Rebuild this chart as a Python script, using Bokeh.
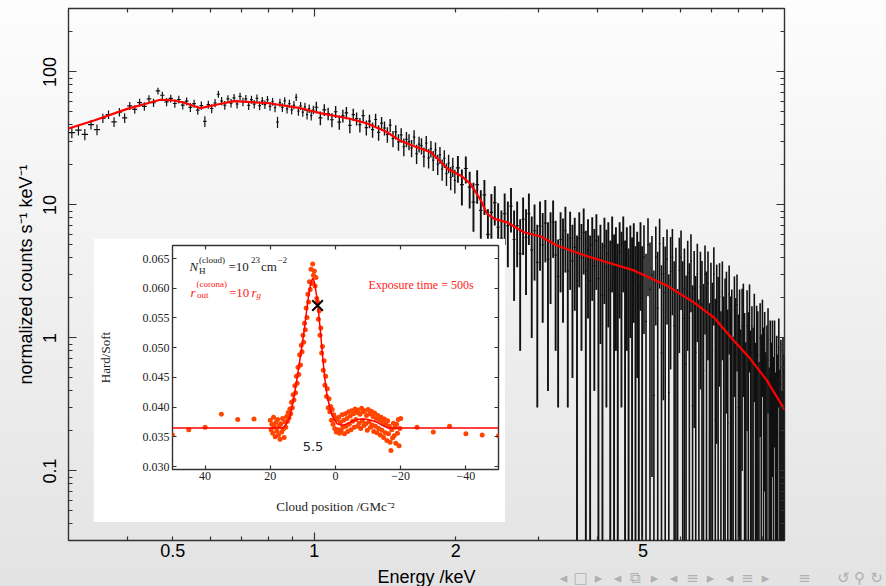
import numpy as np
from bokeh.plotting import figure
from bokeh.layouts import column
from bokeh.core.properties import value
from bokeh.models import (Range1d, LogAxis, LinearAxis, FixedTicker, CustomJSTickFormatter,
                          NumeralTickFormatter, Label, GridBox)
from bokeh.embed import file_html
from bokeh.resources import INLINE

# ---------------- main spectrum (energy bins, keV) ----------------
edges = [0.30, 0.31, 0.32, 0.33, 0.34, 0.35, 0.36, 0.37, 0.38, 0.39, 0.40, 0.41, 0.42, 0.43, 0.44,
         0.45, 0.46, 0.47, 0.48, 0.49, 0.50, 0.51, 0.52, 0.53, 0.54, 0.55, 0.56, 0.57, 0.58, 0.59,
         0.60, 0.61, 0.62, 0.63, 0.64, 0.65, 0.66, 0.67, 0.68, 0.69, 0.70, 0.71, 0.72, 0.73, 0.74,
         0.75, 0.76, 0.77, 0.78, 0.79, 0.80, 0.81, 0.82, 0.83, 0.84, 0.85, 0.86, 0.87, 0.88, 0.89,
         0.90, 0.91, 0.92, 0.93, 0.94, 0.95, 0.96, 0.97, 0.98, 0.99, 1.00,
         1.02, 1.04, 1.06, 1.08, 1.10, 1.12, 1.14, 1.16, 1.18, 1.20, 1.22, 1.24, 1.26, 1.28, 1.30,
         1.32, 1.34, 1.36, 1.38, 1.40, 1.42, 1.44, 1.46, 1.48, 1.50, 1.52, 1.54, 1.56, 1.58, 1.60,
         1.62, 1.64, 1.66, 1.68, 1.70, 1.72, 1.74, 1.76, 1.78, 1.80, 1.82, 1.84, 1.86, 1.88, 1.90,
         1.92, 1.94, 1.96, 1.98, 2.00,
         2.04, 2.08, 2.12, 2.16, 2.20, 2.24, 2.28, 2.32, 2.36, 2.40, 2.44, 2.48, 2.52, 2.56, 2.60,
         2.64, 2.68, 2.72, 2.76, 2.80, 2.84, 2.88, 2.92, 2.96, 3.00, 3.04, 3.08, 3.12, 3.16, 3.20,
         3.24, 3.28, 3.32, 3.36, 3.40, 3.44, 3.48, 3.52, 3.56, 3.60, 3.64, 3.68, 3.72, 3.76, 3.80,
         3.84, 3.88, 3.92, 3.96, 4.00, 4.04, 4.08, 4.12, 4.16, 4.20, 4.24, 4.28, 4.32, 4.36, 4.40,
         4.44, 4.48, 4.52, 4.56, 4.60, 4.64, 4.68, 4.72, 4.76, 4.80, 4.84, 4.88, 4.92, 4.96, 5.00,
         5.05, 5.10, 5.15, 5.20, 5.25, 5.30, 5.35, 5.40, 5.45, 5.50, 5.55, 5.60, 5.65, 5.70, 5.75,
         5.80, 5.85, 5.90, 5.95, 6.00, 6.05, 6.10, 6.15, 6.20, 6.25, 6.30, 6.35, 6.40, 6.45, 6.50,
         6.55, 6.60, 6.65, 6.70, 6.75, 6.80, 6.85, 6.90, 6.95, 7.00, 7.05, 7.10, 7.15, 7.20, 7.25,
         7.30, 7.35, 7.40, 7.45, 7.50, 7.55, 7.60, 7.65, 7.70, 7.75, 7.80, 7.85, 7.90, 7.95, 8.00,
         8.05, 8.10, 8.15, 8.20, 8.25, 8.30, 8.35, 8.40, 8.45, 8.50, 8.55, 8.60, 8.65, 8.70, 8.75,
         8.80, 8.85, 8.90, 8.95, 9.00, 9.05, 9.10, 9.15, 9.20, 9.25, 9.30, 9.35, 9.40, 9.45, 9.50,
         9.55, 9.60, 9.65, 9.70, 9.75, 9.80, 9.85, 9.90, 9.95, 10.00]

rate = [35.0, 36.5, 33.9, 40.2, 36.8, 44.9, 47.8, 42.1, 49.9, 45.2,
        55.6, 52.3, 58.9, 55.1, 62.8, 58.7, 72.0, 66.8, 59.5, 63.2,
        57.9, 62.1, 56.4, 60.3, 54.2, 57.7, 51.6, 55.9, 42.5, 56.8,
        53.1, 58.4, 68.0, 60.5, 56.2, 62.7, 58.3, 63.9, 57.4, 65.5,
        59.6, 62.8, 56.1, 61.9, 57.3, 63.4, 55.8, 60.7, 56.9, 61.8,
        55.2, 59.7, 53.8, 42.0, 58.9, 54.1, 60.6, 52.7, 57.8, 51.9,
        56.4, 64.5, 50.8, 55.6, 49.9, 54.7, 47.8, 53.1, 46.9, 51.8,
        54.3, 45.1, 51.9, 48.6, 43.7, 50.2, 41.9, 46.8, 49.3, 39.7,
        47.8, 44.6, 40.1, 46.9, 38.2, 42.7, 36.8, 43.9, 35.1, 41.2,
        37.9, 33.9, 39.8, 31.6, 35.4, 29.8, 33.6, 27.4, 31.2, 29.9,
        26.8, 32.4, 24.3, 28.7, 27.9, 23.1, 29.2, 22.6, 26.5, 21.7,
        25.9, 20.3, 23.8, 18.6, 22.4, 17.2, 20.6, 16.1, 19.4, 15.3,
        19.0, 14.2, 18.8, 13.6, 10.5, 14.2, 9.1, 11.9, 6.0, 8.8,
        10.4, 6.8, 5.6, 8.6, 7.0, 9.8, 5.5, 7.0, 4.3, 7.8,
        5.7, 8.6, 4.6, 6.4, 3.7, 6.9, 5.0, 7.3, 3.9, 5.3,
        7.4, 4.2, 2.9, 5.5, 4.6, 6.4, 3.2, 5.6, 3.8, 4.8,
        2.7, 5.6, 4.0, 6.2, 3.2, 4.6, 2.7, 5.0, 3.5, 5.4,
        2.8, 4.0, 2.1, 4.9, 3.4, 4.3, 2.3, 5.2, 2.9, 3.8,
        2.1, 4.4, 3.3, 5.2, 2.4, 3.8, 1.7, 4.0, 2.8, 4.3,
        2.0, 3.4, 2.4, 4.5, 2.0,
        4.05, 1.33, 5.01, 2.32, 2.97, 0.37, 4.06, 1.67, 5.11, 0.77,
        3.04, 2.19, 3.90, 0.39, 3.16, 4.04, 1.24, 2.27, -0.15, 3.22,
        4.03, 1.40, 2.35, 0.64, 3.09, 1.41, 3.79, 0.31, 2.36, 0.78,
        3.02, -0.12, 2.43, 1.79, 0.57, 3.01, 1.23, 2.57, -0.05, 1.82,
        0.80, 3.02, 0.24, 1.86, 1.21, 2.04, 0.00, 2.22, 0.54, 1.32,
        1.71, 0.23, 2.13, 0.70, 0.99, -0.27, 1.63, 0.77, 1.78, 0.30,
        1.14, 0.01, 1.22, 1.46, 0.46, -0.13, 1.24, 0.54, 1.54, 0.16,
        0.78, 0.26, 1.24, 0.03, 0.87, 0.74, -0.18, 1.00, 0.26, 1.15,
        0.43, 0.82, 0.05, 0.52, 0.97, -0.08, 0.68, 0.27, 0.72, 0.10,
        0.75, -0.04, 0.47, 0.19, 0.85, 0.05, 0.45, -0.11, 0.51, 0.27]

rate_err = [3.2, 3.2, 3.3, 3.3, 3.4, 3.5, 3.5, 3.6, 3.7, 3.8,
            3.8, 3.9, 4.0, 4.0, 4.1, 4.2, 4.2, 4.3, 4.3, 4.3,
            4.2, 4.2, 4.2, 4.1, 4.1, 4.0, 4.0, 4.0, 4.0, 4.0,
            4.1, 4.1, 4.1, 4.2, 4.2, 4.2, 4.3, 4.3, 4.3, 4.3,
            4.3, 4.3, 4.3, 4.2, 4.2, 4.2, 4.2, 4.2, 4.2, 4.2,
            4.2, 4.1, 4.1, 4.1, 4.1, 4.1, 4.0, 4.0, 4.0, 4.0,
            4.0, 4.0, 4.0, 3.9, 3.9, 3.9, 3.9, 3.9, 3.8, 3.8,
            5.4, 5.4, 5.3, 5.3, 5.3, 5.2, 5.2, 5.2, 5.2, 5.1,
            5.1, 5.0, 5.0, 5.0, 4.9, 4.9, 4.8, 4.7, 4.7, 4.6,
            4.6, 4.5, 4.5, 4.4, 4.3, 4.2, 4.2, 4.2, 4.1, 4.1,
            4.0, 4.0, 4.0, 3.9, 3.9, 3.9, 3.8, 3.8, 3.8, 3.7,
            3.6, 3.5, 3.5, 3.4, 3.4, 3.3, 3.3, 3.2, 3.2, 3.1,
            4.3, 4.3, 4.3, 4.2, 4.2, 4.0, 3.8, 3.5, 3.3, 3.3,
            3.4, 3.5, 3.5, 3.6, 3.6, 3.6, 3.6, 3.6, 3.5, 3.6,
            3.6, 3.6, 3.6, 3.7, 3.4, 3.7, 3.7, 3.6, 3.5, 3.5,
            3.4, 3.4, 2.6, 3.3, 3.3, 3.3, 2.9, 3.3, 3.3, 3.2,
            3.2, 3.2, 3.2, 3.2, 3.2, 3.2, 3.2, 3.1, 3.1, 3.1,
            3.1, 3.1, 3.1, 3.1, 3.1, 3.1, 3.1, 3.0, 3.1, 3.0,
            3.0, 3.0, 3.0, 3.0, 3.0, 3.0, 3.0, 3.0, 2.9, 3.0,
            2.9, 2.9, 2.9, 2.9, 2.9,
            2.98, 2.96, 2.95, 2.90, 2.88, 2.84, 2.82, 2.78, 2.76, 2.75,
            2.70, 2.69, 2.64, 2.62, 2.58, 2.56, 2.54, 2.50, 2.48, 2.45,
            2.41, 2.38, 2.36, 2.31, 2.29, 2.24, 2.23, 2.18, 2.15, 2.14,
            2.09, 2.07, 2.02, 2.00, 1.98, 1.95, 1.93, 1.89, 1.87, 1.85,
            1.80, 1.78, 1.73, 1.70, 1.66, 1.61, 1.59, 1.54, 1.51, 1.48,
            1.44, 1.41, 1.38, 1.35, 1.32, 1.29, 1.27, 1.23, 1.22, 1.20,
            1.17, 1.15, 1.12, 1.10, 1.08, 1.06, 1.04, 1.02, 0.99, 0.98,
            0.95, 0.94, 0.91, 0.89, 0.88, 0.85, 0.84, 0.82, 0.80, 0.79,
            0.77, 0.75, 0.73, 0.72, 0.70, 0.68, 0.67, 0.65, 0.63, 0.62,
            0.60, 0.59, 0.57, 0.56, 0.55, 0.53, 0.52, 0.51, 0.49, 0.48]

model_energy = [0.30, 0.34, 0.40, 0.47, 0.495, 0.527, 0.573, 0.622, 0.675, 0.794, 0.935, 1.03,
                1.19, 1.30, 1.43, 1.52, 1.65, 1.77, 1.86, 1.92, 2.05, 2.15, 2.26, 2.33, 2.41,
                2.57, 2.79, 3.03, 3.28, 3.56, 3.86, 4.19, 4.78, 5.62, 6.40, 7.07, 7.79, 8.45,
                9.17, 10.0]
model_rate = [37.6, 43.1, 52.8, 61.8, 61.5, 58.9, 53.4, 56.9, 60.3, 58.4, 53.4, 49.0,
              44.5, 40.8, 35.2, 30.5, 27.2, 24.9, 21.0, 18.7, 16.6, 14.4, 10.8, 8.6, 7.9,
              7.4, 6.24, 5.79, 4.96, 4.47, 4.05, 3.71, 3.22, 2.48, 1.86, 1.43, 0.96, 0.70,
              0.48, 0.29]

x_labels = [0.5, 1, 2, 5]
x_decades = [1]
x_minor = [0.4, 0.5, 0.6, 0.7, 0.8, 0.9, 2, 3, 4, 5, 6, 7, 8, 9]
y_major = [0.1, 1, 10, 100]
y_minor = [0.04, 0.05, 0.06, 0.07, 0.08, 0.09, 0.2, 0.3, 0.4, 0.5, 0.6, 0.7, 0.8, 0.9,
           2, 3, 4, 5, 6, 7, 8, 9, 20, 30, 40, 50, 60, 70, 80, 90, 200]
y_title = "normalized counts s⁻¹ keV⁻¹"
x_title = "Energy /keV"

# ---------------- inset: hardness ratio vs cloud position ----------------
cloud_x = [20.0, 19.75, 19.5, 19.25, 19.0, 18.75, 18.5, 18.25, 18.0, 17.75,
           17.5, 17.25, 17.0, 16.75, 16.5, 16.25, 16.0, 15.75, 15.5, 15.25,
           15.0, 14.75, 14.5, 14.25, 14.0, 13.75, 13.5, 13.25, 13.0, 12.75,
           12.5, 12.25, 12.0, 11.75, 11.5, 11.25, 11.0, 10.75, 10.5, 10.25,
           10.0, 9.75, 9.5, 9.25, 9.0, 8.75, 8.5, 8.25, 8.0, 7.75,
           7.5, 7.25, 7.0, 6.75, 6.5, 6.25, 6.0, 5.75, 5.5, 5.25,
           5.0, 4.75, 4.5, 4.25, 4.0, 3.75, 3.5, 3.25, 3.0, 2.75,
           2.5, 2.25, 2.0, 1.75, 1.5, 1.25, 1.0, 0.75, 0.5, 0.25,
           0.0, -0.25, -0.5, -0.75, -1.0, -1.25, -1.5, -1.75, -2.0, -2.25,
           -2.5, -2.75, -3.0, -3.25, -3.5, -3.75, -4.0, -4.25, -4.5, -4.75,
           -5.0, -5.25, -5.5, -5.75, -6.0, -6.25, -6.5, -6.75, -7.0, -7.25,
           -7.5, -7.75, -8.0, -8.25, -8.5, -8.75, -9.0, -9.25, -9.5, -9.75,
           -10.0, -10.25, -10.5, -10.75, -11.0, -11.25, -11.5, -11.75, -12.0, -12.25,
           -12.5, -12.75, -13.0, -13.25, -13.5, -13.75, -14.0, -14.25, -14.5, -14.75,
           -15.0, -15.25, -15.5, -15.75, -16.0, -16.25, -16.5, -16.75, -17.0, -17.25,
           -17.5, -17.75, -18.0, -18.25, -18.5, -18.75, -19.0, -19.25, -19.5, -19.75,
           -20.0]
hard_soft = [0.0378, 0.0362, 0.0371, 0.0356, 0.0383, 0.0367, 0.0350, 0.0374, 0.0360, 0.0379,
             0.0353, 0.0368, 0.0346, 0.0372, 0.0358, 0.0381, 0.0363, 0.0349, 0.0375, 0.0366,
             0.0384, 0.0376, 0.0391, 0.0382, 0.0397, 0.0389, 0.0408, 0.0399, 0.0421, 0.0412,
             0.0436, 0.0424, 0.0452, 0.0440, 0.0467, 0.0455, 0.0488, 0.0471, 0.0504, 0.0493,
             0.0521, 0.0509, 0.0541, 0.0530, 0.0567, 0.0551, 0.0590, 0.0577, 0.0611, 0.0598,
             0.0632, 0.0608, 0.0641, 0.0622, 0.0629, 0.0604, 0.0618, 0.0583, 0.0577, 0.0548,
             0.0562, 0.0521, 0.0533, 0.0491, 0.0502, 0.0462, 0.0478, 0.0437, 0.0452, 0.0418,
             0.0431, 0.0399, 0.0414, 0.0392, 0.0401, 0.0378, 0.0396, 0.0371, 0.0387, 0.0364,
             0.0381, 0.0358, 0.0379, 0.0362, 0.0383, 0.0356, 0.0374, 0.0361, 0.0387, 0.0366,
             0.0378, 0.0355, 0.0389, 0.0368, 0.0381, 0.0359, 0.0392, 0.0371, 0.0385, 0.0362,
             0.0394, 0.0376, 0.0389, 0.0366, 0.0397, 0.0379, 0.0391, 0.0368, 0.0395, 0.0373,
             0.0388, 0.0364, 0.0398, 0.0377, 0.0392, 0.0369, 0.0394, 0.0372, 0.0386, 0.0361,
             0.0396, 0.0375, 0.0389, 0.0366, 0.0393, 0.0370, 0.0384, 0.0359, 0.0390, 0.0368,
             0.0381, 0.0357, 0.0386, 0.0364, 0.0378, 0.0353, 0.0383, 0.0361, 0.0374, 0.0349,
             0.0380, 0.0357, 0.0371, 0.0344, 0.0377, 0.0355, 0.0368, 0.0341, 0.0327, 0.0362,
             0.0348, 0.0373, 0.0352, 0.0366, 0.0339, 0.0371, 0.0356, 0.0379, 0.0335, 0.0364,
             0.0381]
sparse_x = [50, 45, 40, 35, 30, 25, -25, -30, -35, -40, -45, -50]
sparse_y = [0.0353, 0.0362, 0.0366, 0.0388, 0.0379, 0.0380, 0.0366, 0.0358, 0.0368, 0.0355,
            0.0353, 0.0352]
fit_x = [50, 16.0, 15.0, 13.9, 12.8, 11.8, 10.8, 9.8, 9.0, 8.25, 7.6, 7.0, 6.5, 5.8, 5.2,
         4.6, 4.1, 3.6, 3.1, 2.6, 1.8, 1.0, 0.2, -0.5, -1.5, -2.6, -4.0, -5.5, -6.7, -8.0,
         -8.8, -10.0, -11.5, -12.9, -14.5, -16.0, -50]
fit_y = [0.0365, 0.0365, 0.0372, 0.0386, 0.0415, 0.0448, 0.0484, 0.0521, 0.0556, 0.0588,
         0.0608, 0.0617, 0.0611, 0.0588, 0.0560, 0.0526, 0.0495, 0.0465, 0.0440, 0.0420,
         0.0400, 0.0386, 0.0377, 0.0372, 0.0370, 0.0370, 0.0373, 0.0377, 0.0379, 0.0380,
         0.0380, 0.0379, 0.0377, 0.0374, 0.0369, 0.0365, 0.0365]
cross_x = [5.5]
cross_y = [0.0571]
hs_ticks = [0.030, 0.035, 0.040, 0.045, 0.050, 0.055, 0.060, 0.065]
pos_ticks = [40, 20, 0, -20, -40]

# beamer navigation symbols in the footer strip
nav_symbols = ["◂", "□", "▸", "◂", "⧉", "▸", "◂", "≡", "▸", "◂", "≡", "▸", "≡", "↺", "⚲", "↻"]
nav_px = [563, 580, 598, 617, 635, 654, 673, 692, 710, 729, 747, 765, 804, 843, 859, 876]

SANS = "Liberation Sans"
SERIF = "Liberation Serif"
AX = "#333333"
W, H = 886, 586
FOOT = 64


def tick_axis(kind, major, minor, maj_len, min_len):
    ax = kind(ticker=FixedTicker(ticks=major, minor_ticks=minor))
    ax.axis_line_color = None
    ax.major_tick_in = maj_len
    ax.major_tick_out = 0
    ax.minor_tick_in = min_len
    ax.minor_tick_out = 0
    ax.major_tick_line_color = AX
    ax.minor_tick_line_color = AX
    ax.major_tick_line_width = 1.2
    ax.minor_tick_line_width = 1.2
    ax.formatter = CustomJSTickFormatter(code="return ''")
    ax.major_label_text_font_size = "0px"
    ax.major_label_standoff = 0
    return ax


# ---------------- main figure ----------------
p = figure(width=W, height=H, x_axis_type="log", y_axis_type="log",
           x_range=Range1d(0.3, 10), y_range=Range1d(0.03, 300),
           x_axis_location=None, y_axis_location=None,
           output_backend="svg", toolbar_location=None,
           min_border_left=68, min_border_right=102, min_border_top=8, min_border_bottom=46)
p.background_fill_color = None
p.border_fill_color = None
p.outline_line_color = AX
p.outline_line_width = 1.4
p.grid.visible = False

left = tick_axis(LogAxis, y_major, y_minor, 8, 4)
left.formatter = CustomJSTickFormatter(code="return tick.toString()")
left.major_label_text_font_size = "18px"
left.major_label_text_font = SANS
left.major_label_text_color = "black"
left.major_label_orientation = "vertical"
left.major_label_standoff = 12
left.axis_label = y_title
left.axis_label_text_font = SANS
left.axis_label_text_font_size = "18px"
left.axis_label_text_font_style = "normal"
left.axis_label_text_color = "black"
left.axis_label_standoff = 5
p.add_layout(left, "left")
p.add_layout(tick_axis(LogAxis, y_major, y_minor, 8, 4), "right")

p.add_layout(tick_axis(LogAxis, x_decades, x_minor, 8, 4), "above")
p.add_layout(tick_axis(LogAxis, x_decades, x_minor, 8, 4), "below")
bottom = LogAxis(ticker=FixedTicker(ticks=x_labels, minor_ticks=[]))
bottom.axis_line_color = None
bottom.major_tick_line_color = None
bottom.minor_tick_line_color = None
bottom.major_tick_in = 0
bottom.major_tick_out = 0
bottom.formatter = CustomJSTickFormatter(code="return tick.toString()")
bottom.major_label_text_font = SANS
bottom.major_label_text_font_size = "18px"
bottom.major_label_text_color = "black"
bottom.major_label_standoff = 3
p.add_layout(bottom, "below")

n = min(len(edges) - 1, len(rate), len(rate_err))
lo = np.array(edges[:n], dtype=float)
hi = np.array(edges[1:n + 1], dtype=float)
ctr = np.sqrt(lo * hi)
r = np.array(rate[:n], dtype=float)
e = np.array(rate_err[:n], dtype=float)
ylo = np.where(r - e > 0.01, r - e, 0.01)
yhi = r + e
lw = np.where(ctr < 1.0, 1.2, np.where(ctr < 2.0, 1.4, np.where(ctr < 5.0, 1.9, 1.6)))
ok = yhi > 0
p.segment(x0=ctr[ok], y0=ylo[ok], x1=ctr[ok], y1=yhi[ok], line_color="#111111",
          line_width=lw[ok])
pos = r > 0
p.segment(x0=lo[pos], y0=r[pos], x1=hi[pos], y1=r[pos], line_color="#111111", line_width=1.2)
p.line(model_energy, model_rate, line_color="#ff0000", line_width=2.2)

# ---------------- footer strip (x title + navigation symbols) ----------------
foot = figure(width=W, height=FOOT, x_range=Range1d(0, W), y_range=Range1d(FOOT, 0),
              x_axis_location=None, y_axis_location=None,
              output_backend="svg", toolbar_location=None,
              min_border_left=0, min_border_right=0, min_border_top=0, min_border_bottom=0)
foot.background_fill_color = None
foot.border_fill_color = None
foot.outline_line_color = None
foot.grid.visible = False
foot.text(x=[426], y=[576 - (H - FOOT)], text=[x_title], text_font=value(SANS),
          text_font_size="18px", text_color="black", text_align="center",
          text_baseline="middle")
foot.text(x=nav_px, y=[577 - (H - FOOT)] * len(nav_px), text=nav_symbols,
          text_font=value("DejaVu Sans"), text_font_size="15px", text_color="#b0b0b0",
          text_align="center", text_baseline="middle")

# ---------------- inset figure ----------------
ins = figure(width=412, height=284, x_range=Range1d(50, -50), y_range=Range1d(0.0295, 0.0672),
             x_axis_location=None, y_axis_location=None,
             output_backend="svg", toolbar_location=None,
             min_border_left=79, min_border_right=7, min_border_top=7, min_border_bottom=53)
ins.background_fill_color = "white"
ins.border_fill_color = "white"
ins.outline_line_color = AX
ins.outline_line_width = 1.4
ins.grid.visible = False

il = tick_axis(LinearAxis, hs_ticks, [], 4, 0)
il.formatter = NumeralTickFormatter(format="0.000")
il.major_label_text_font = SERIF
il.major_label_text_font_size = "12px"
il.major_label_text_color = "#222222"
il.major_label_standoff = 3
il.axis_label = "Hard/Soft"
il.axis_label_text_font = SERIF
il.axis_label_text_font_size = "13px"
il.axis_label_text_font_style = "normal"
il.axis_label_text_color = "#222222"
il.axis_label_standoff = 27
ins.add_layout(il, "left")
ins.add_layout(tick_axis(LinearAxis, hs_ticks, [], 4, 0), "right")

ib = tick_axis(LinearAxis, pos_ticks, [], 4, 0)
ib.formatter = CustomJSTickFormatter(code="return tick < 0 ? '\\u2212' + Math.abs(tick) : String(tick)")
ib.major_label_text_font = SERIF
ib.major_label_text_font_size = "12px"
ib.major_label_text_color = "#222222"
ib.major_label_standoff = 2
ib.axis_label = "Cloud position /GMc⁻²"
ib.axis_label_text_font = SERIF
ib.axis_label_text_font_size = "13px"
ib.axis_label_text_font_style = "normal"
ib.axis_label_text_color = "#222222"
ib.axis_label_standoff = 16
ins.add_layout(ib, "below")
ins.add_layout(tick_axis(LinearAxis, pos_ticks, [], 4, 0), "above")

ins.scatter(cloud_x, hard_soft, size=5, fill_color="#ff4500", line_color=None)
ins.scatter(sparse_x, sparse_y, size=5, fill_color="#ff4500", line_color=None)
ins.line(fit_x, fit_y, line_color="#ff0000", line_width=1.5)
ins.scatter(cross_x, cross_y, marker="x", size=15, line_color="black", line_width=2)


def note(x, y, text, size, color, style="normal", font=SERIF, align="left", baseline="alphabetic"):
    ins.add_layout(Label(x=x, y=y, text=text, text_font=font, text_font_size=f"{size}px",
                         text_color=color, text_font_style=style, text_align=align,
                         text_baseline=baseline))


note(44.79, 0.06367, "N", 13, "#222222", "italic")
note(41.87, 0.06468, "(cloud)", 9, "#222222")
note(41.87, 0.06291, "H", 9, "#222222")
note(32.82, 0.06367, "=10", 13, "#222222")
note(25.92, 0.06468, "23", 9, "#222222")
note(22.85, 0.06367, "cm", 13, "#222222")
note(17.79, 0.06468, "−2", 9, "#222222")

note(44.48, 0.05929, "r", 13, "#ff2020", "italic")
note(42.64, 0.06064, "(corona)", 9, "#ff2020")
note(42.49, 0.05887, "out", 9, "#ff2020")
note(32.67, 0.05929, "=10", 13, "#ff2020")
note(25.77, 0.05929, "r", 13, "#ff2020", "italic")
note(24.23, 0.05879, "g", 9, "#ff2020", "italic")
note(-10.12, 0.06063, "Exposure time = 500s", 12, "#ff2020")
note(6.9, 0.03342, "5.5", 13, "#222222", font="DejaVu Sans", align="center", baseline="middle")

# main plot wrapped in a column so that its frame is not aligned with the footer strip
grid = GridBox(children=[(column(p), 0, 0, 3, 3), (ins, 1, 1, 1, 1), (foot, 2, 0, 1, 3)],
               rows=["238px", "284px", f"{FOOT}px"], cols=["93px", "412px", "381px"],
               styles={"background": "linear-gradient(180deg, #fdfdfd 0%, #e3e3e3 100%)"})

open("out.html", "w").write(file_html(grid, INLINE))
